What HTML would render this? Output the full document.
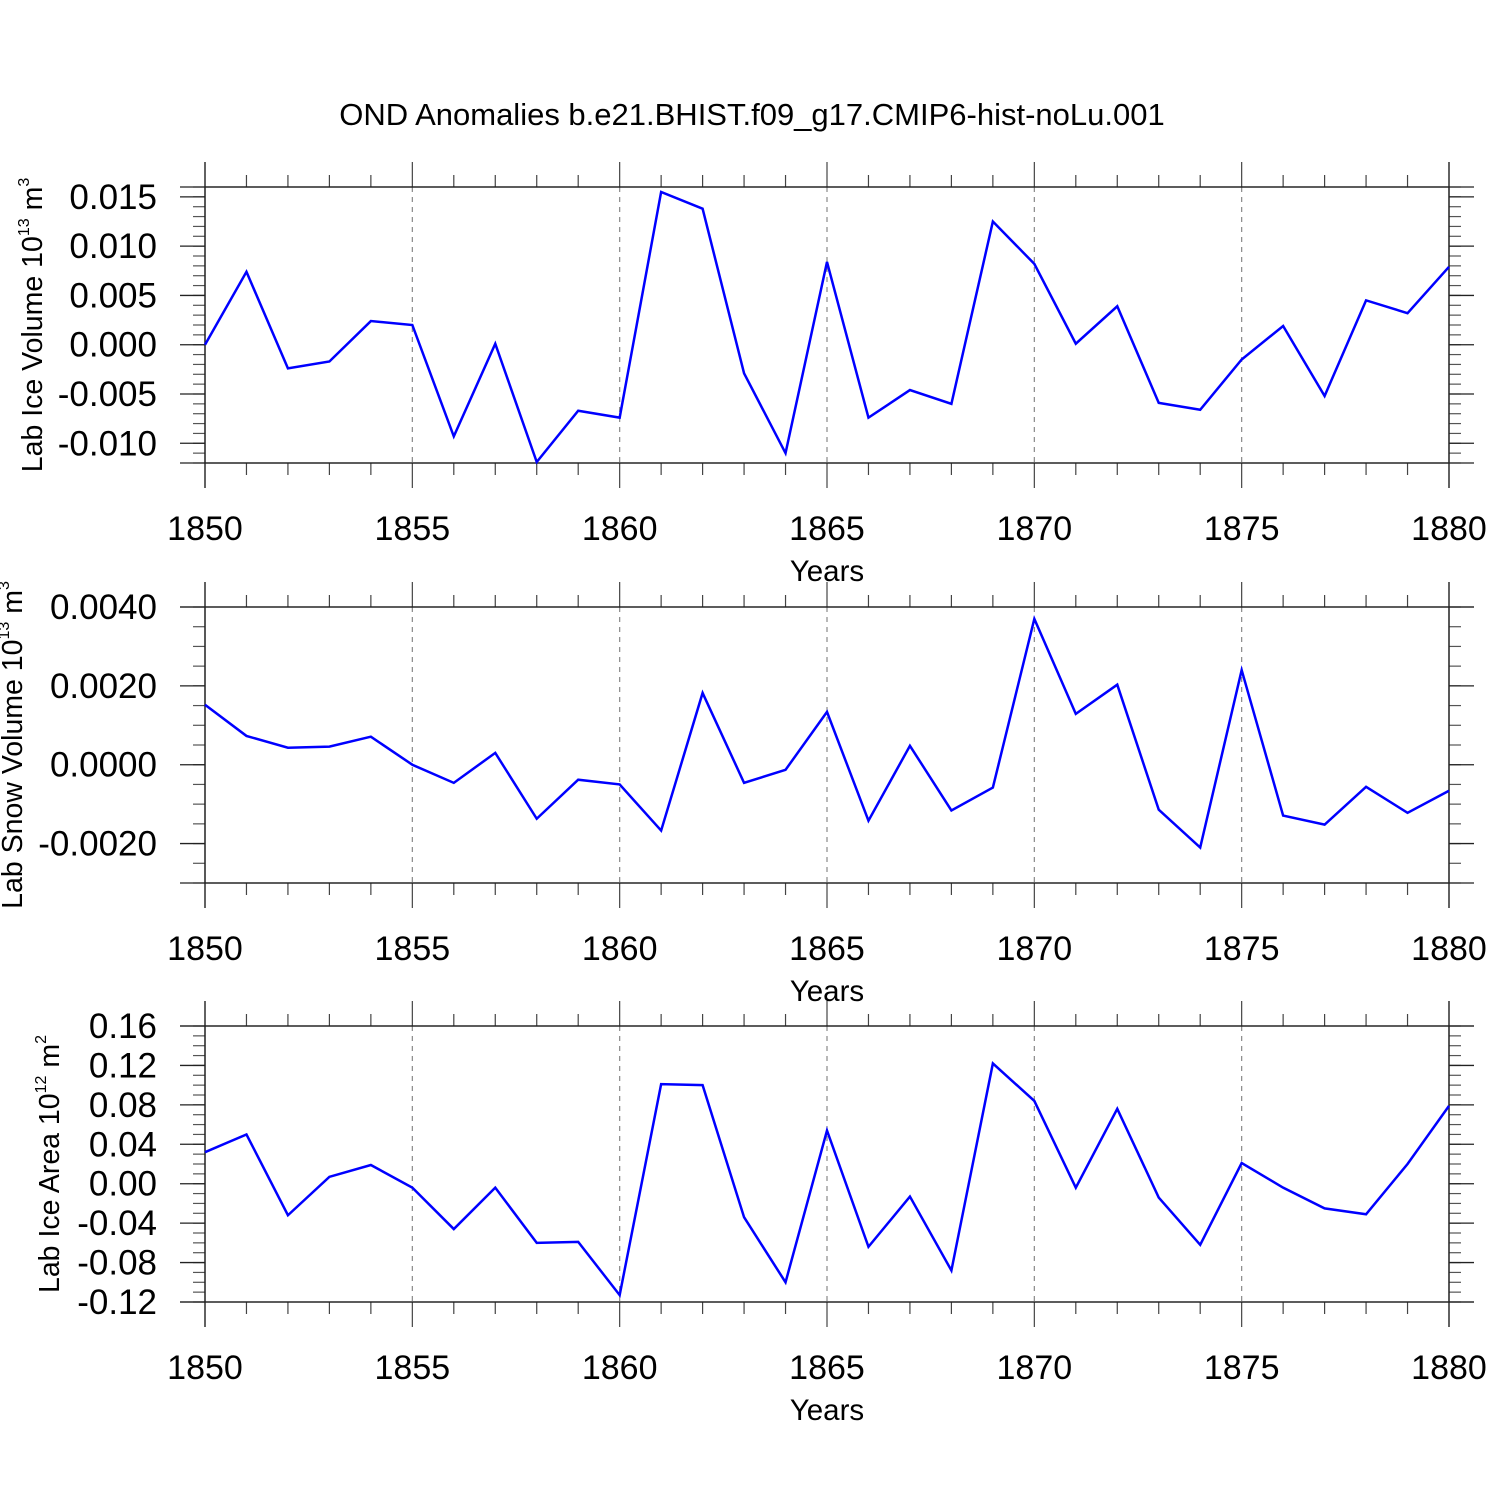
<!DOCTYPE html>
<html><head><meta charset="utf-8"><style>
html,body{margin:0;padding:0;background:#fff}
svg text{font-family:"Liberation Sans",Arial,sans-serif;fill:#000}
</style></head><body>
<svg id="chart" xmlns="http://www.w3.org/2000/svg" width="1500" height="1500" viewBox="0 0 1500 1500">
<rect width="1500" height="1500" fill="#fff"/>
<text x="752" y="125" font-size="31" text-anchor="middle">OND Anomalies b.e21.BHIST.f09_g17.CMIP6-hist-noLu.001</text>
</svg>
<script>
const years = [];
for (let y = 1850; y <= 1880; y++) years.push(y);
const iceVolume = [0.0,0.0074,-0.0024,-0.0017,0.0024,0.0020,-0.0093,0.0001,-0.0119,-0.0067,-0.0074,0.0155,0.0138,-0.0029,-0.0110,0.0084,-0.0074,-0.0046,-0.0060,0.0125,0.0082,0.0001,0.0039,-0.0059,-0.0066,-0.0015,0.0019,-0.0052,0.0045,0.0032,0.0079];
const snowVolume = [0.00152,0.00073,0.00043,0.00046,0.00071,0.0,-0.00046,0.0003,-0.00137,-0.00038,-0.0005,-0.00167,0.00182,-0.00046,-0.00013,0.00134,-0.00142,0.00048,-0.00116,-0.00058,0.0037,0.00129,0.00203,-0.00114,-0.0021,0.0024,-0.00129,-0.00152,-0.00056,-0.00122,-0.00066];
const iceArea = [0.032,0.050,-0.032,0.007,0.019,-0.004,-0.046,-0.004,-0.060,-0.059,-0.113,0.101,0.100,-0.034,-0.100,0.054,-0.064,-0.013,-0.088,0.122,0.084,-0.004,0.076,-0.014,-0.062,0.021,-0.004,-0.025,-0.031,0.020,0.079];
const xTickLabels = ['1850','1855','1860','1865','1870','1875','1880'];
const iceVolTicks = ['0.015','0.010','0.005','0.000','-0.005','-0.010'];
const snowVolTicks = ['0.0040','0.0020','0.0000','-0.0020'];
const iceAreaTicks = ['0.16','0.12','0.08','0.04','0.00','-0.04','-0.08','-0.12'];

const NS = 'http://www.w3.org/2000/svg';
const svg = document.getElementById('chart');
function mk(tag, attrs, parent){const e=document.createElementNS(NS,tag);for(const k in attrs)e.setAttribute(k,attrs[k]);(parent||svg).appendChild(e);return e;}
const X0=205, X1=1449;
function xs(y){return X0+(y-1850)/30*(X1-X0);}

function panel(name, top, ymin, ymax, ticks, minorStep, data, ylab, sup, unit, labX){
  const bot=top+276;
  const g=mk('g',{});
  
  
  const ys=v=>bot-(v-ymin)/(ymax-ymin)*(bot-top);
  for(let y=1855;y<1880;y+=5){
    const l=mk('line',{x1:xs(y),x2:xs(y),y1:top,y2:bot,stroke:'#888','stroke-width':1.2,'stroke-dasharray':'5,5'},g);
    
    
  }
  for(let y=1850;y<=1880;y++){
    const maj=(y%5===0), len=maj?25:12;
    mk('line',{x1:xs(y),x2:xs(y),y1:top-len,y2:top,stroke:'#444','stroke-width':1.2},g);
    mk('line',{x1:xs(y),x2:xs(y),y1:bot,y2:bot+len,stroke:'#444','stroke-width':1.2},g);
  }
  xTickLabels.forEach(t=>{
    const tx=mk('text',{x:xs(+t),y:bot+77,'font-size':34,'text-anchor':'middle'},g);
    tx.textContent=t;
    
    
  });
  const xt=mk('text',{x:827,y:bot+118,'font-size':29.5,'text-anchor':'middle'},g);
  xt.textContent='Years';
  
  
  const n=Math.round((ymax-ymin)/minorStep);
  for(let i=0;i<=n;i++){
    const v=ymin+i*minorStep, py=ys(v);
    mk('line',{x1:X0-12,x2:X0,y1:py,y2:py,stroke:'#555','stroke-width':1.2},g);
    mk('line',{x1:X1,x2:X1+12,y1:py,y2:py,stroke:'#555','stroke-width':1.2},g);
  }
  ticks.forEach(t=>{
    const py=ys(parseFloat(t));
    mk('line',{x1:X0-25,x2:X0,y1:py,y2:py,stroke:'#222','stroke-width':1.3},g);
    mk('line',{x1:X1,x2:X1+25,y1:py,y2:py,stroke:'#222','stroke-width':1.3},g);
    const tx=mk('text',{x:157,y:py+12,'font-size':35,'text-anchor':'end'},g);
    tx.textContent=t;
    
    
  });
  mk('rect',{x:X0,y:top,width:X1-X0,height:bot-top,fill:'none',stroke:'#222','stroke-width':1.3},g);
  mk('line',{x1:X0,x2:X0,y1:top-25,y2:bot+25,stroke:'#222','stroke-width':1.3},g);
  mk('line',{x1:X1,x2:X1,y1:top-25,y2:bot+25,stroke:'#222','stroke-width':1.3},g);
  mk('line',{x1:X0-25,x2:X1+25,y1:top,y2:top,stroke:'#222','stroke-width':1.3},g);
  mk('line',{x1:X0-25,x2:X1+25,y1:bot,y2:bot,stroke:'#222','stroke-width':1.3},g);
  const pts=data.map((v,i)=>xs(years[i])+','+ys(v)).join(' ');
  const pl=mk('polyline',{points:pts,fill:'none',stroke:'#0000ff','stroke-width':2.5,'stroke-linejoin':'miter'},g);
  
  
  const cy=(top+bot)/2;
  const yt=mk('text',{x:labX,y:cy,'font-size':28.5,'text-anchor':'middle',transform:'rotate(-90 '+labX+' '+cy+')'},g);
  
  
  const s1=mk('tspan',{},yt); s1.textContent=ylab+' 10';
  const s2=mk('tspan',{'font-size':16,dy:-13},yt); s2.textContent=sup;
  const s3=mk('tspan',{dy:13},yt); s3.textContent=' m';
  const s4=mk('tspan',{'font-size':16,dy:-13},yt); s4.textContent=unit;
}
panel('ice-volume',187,-0.012,0.016,iceVolTicks,0.001,iceVolume,'Lab Ice Volume','13','3',42);
panel('snow-volume',607,-0.003,0.004,snowVolTicks,0.0005,snowVolume,'Lab Snow Volume','13','3',22);
panel('ice-area',1026,-0.12,0.16,iceAreaTicks,0.01,iceArea,'Lab Ice Area','12','2',59);
</script>
</body></html>
